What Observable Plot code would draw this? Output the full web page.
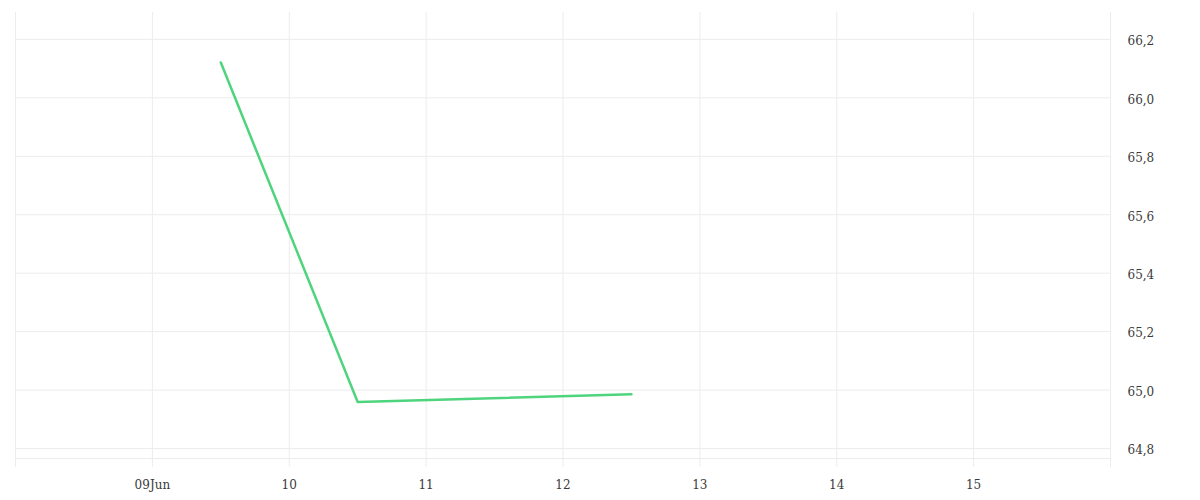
<!DOCTYPE html>
<html><head><meta charset="utf-8">
<script src="https://cdn.jsdelivr.net/npm/d3@7"></script>
<script src="https://cdn.jsdelivr.net/npm/@observablehq/plot@0.6"></script>
<style>body{margin:0;background:#fff;} svg{display:block;}</style>
</head><body><div id="chart"></div>
<script>
const dates = ["2024-06-09T12:00", "2024-06-10T12:00", "2024-06-12T12:00"];
const values = [66.121, 64.959, 64.986];
const dayTicks = ["2024-06-08", "2024-06-09", "2024-06-10", "2024-06-11", "2024-06-12", "2024-06-13", "2024-06-14", "2024-06-15", "2024-06-16"];
const labelTicks = ["2024-06-09", "2024-06-10", "2024-06-11", "2024-06-12", "2024-06-13", "2024-06-14", "2024-06-15"];
const yTicks = [64.8, 65.0, 65.2, 65.4, 65.6, 65.8, 66.0, 66.2];

const data = dates.map((d, i) => ({date: new Date(d), value: values[i]}));
const days = dayTicks.map(d => new Date(d + "T00:00"));
const labels = labelTicks.map(d => new Date(d + "T00:00"));
const grid = "#ececec";
const fmtY = v => d3.format(".1f")(v).replace(".", ",");
const fmtX = (d, i) => i === 0 ? d3.timeFormat("%d%b")(d) : d3.timeFormat("%d")(d);

const chart = Plot.plot({
  width: 1200,
  height: 500,
  marginLeft: 15,
  marginRight: 90,
  marginTop: 12,
  marginBottom: 42,
  style: {fontFamily: "'DejaVu Serif', serif", color: "#333", background: "#fff"},
  x: {type: "time", domain: [days[0], days[days.length - 1]], label: null},
  y: {domain: [64.766, 66.292], label: null},
  marks: [
    Plot.ruleY(yTicks, {stroke: grid, strokeWidth: 1}),
    Plot.ruleY([64.766], {stroke: grid, strokeWidth: 1}),
    Plot.ruleX(days, {stroke: grid, strokeWidth: 1, insetBottom: -9}),
    Plot.axisX(labels, {ticks: labels, tickSize: 0, tickPadding: 22, tickFormat: fmtX, fill: "#3a3a3a", fontSize: 12, label: null}),
    Plot.axisY({anchor: "right", ticks: yTicks, tickSize: 0, tickPadding: 17, dy: 2, tickFormat: fmtY, textAnchor: "start", fill: "#3a3a3a", fontSize: 12, label: null}),
    Plot.line(data, {x: "date", y: "value", stroke: "#4fd47e", strokeWidth: 2.5})
  ]
});
document.getElementById("chart").appendChild(chart);
</script>
</body></html>
